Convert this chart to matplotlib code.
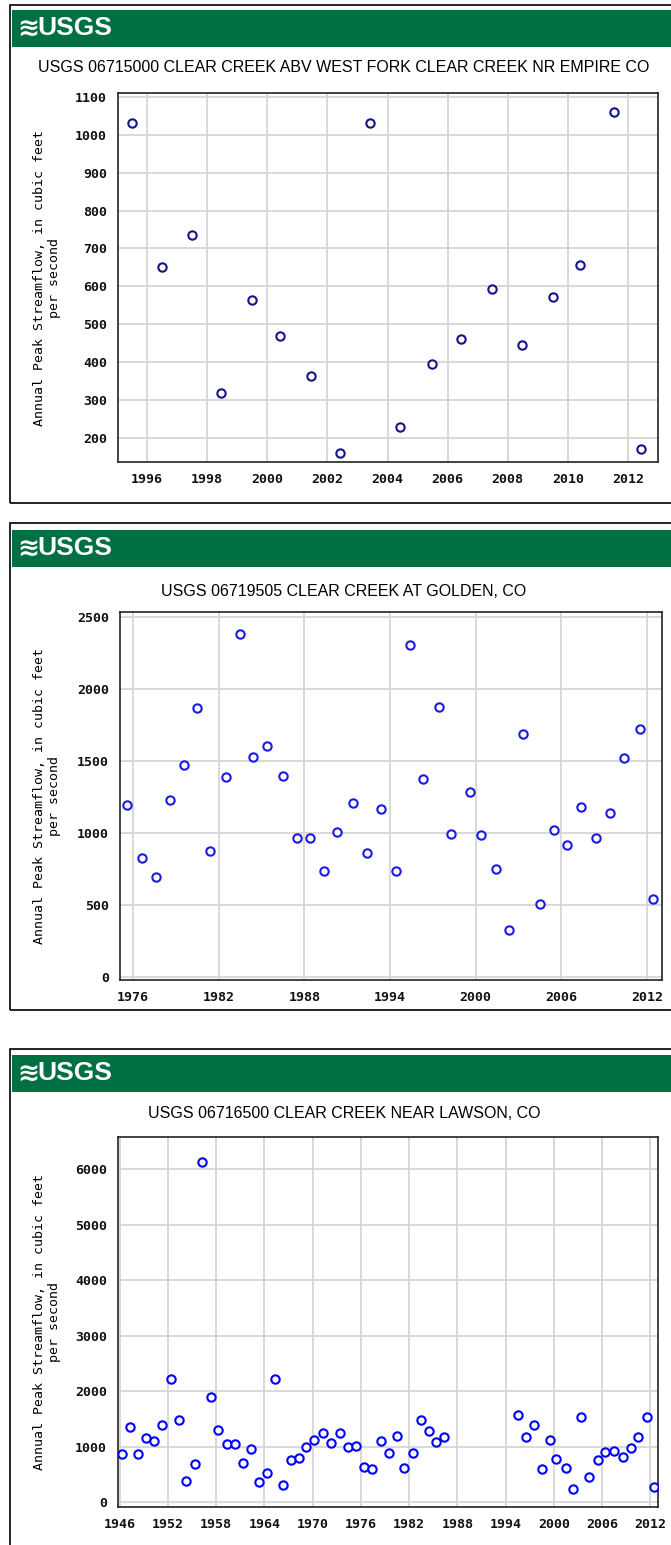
import matplotlib
matplotlib.use('Agg')
import matplotlib.pyplot as plt
from matplotlib import font_manager
from matplotlib.patches import Rectangle

# ---- data ----
# 06715000 CLEAR CREEK ABV WEST FORK CLEAR CREEK NR EMPIRE CO
empire_year = [1995.5, 1996.5, 1997.5, 1998.45, 1999.5, 2000.42, 2001.46, 2002.42, 2003.42,
               2004.43, 2005.48, 2006.44, 2007.48, 2008.49, 2009.5, 2010.42, 2011.53, 2012.42]
empire_peak = [1030, 650, 735, 320, 564, 469, 365, 160, 1030,
               230, 396, 461, 594, 445, 573, 657, 1060, 170]
empire_ticks = [1996, 1998, 2000, 2002, 2004, 2006, 2008, 2010, 2012]
empire_yticks = [200, 300, 400, 500, 600, 700, 800, 900, 1000, 1100]

# 06719505 CLEAR CREEK AT GOLDEN, CO
golden_year = [1975.6, 1976.6, 1977.6, 1978.6, 1979.6, 1980.5, 1981.4, 1982.5, 1983.5, 1984.4,
               1985.4, 1986.5, 1987.5, 1988.4, 1989.4, 1990.3, 1991.4, 1992.4, 1993.4, 1994.4,
               1995.4, 1996.3, 1997.4, 1998.3, 1999.6, 2000.4, 2001.4, 2002.3, 2003.3, 2004.5,
               2005.5, 2006.4, 2007.4, 2008.4, 2009.4, 2010.4, 2011.5, 2012.4]
golden_peak = [1196, 826, 692, 1229, 1472, 1870, 875, 1391, 2380, 1528,
               1606, 1398, 963, 963, 738, 1005, 1206, 859, 1167, 738,
               2308, 1373, 1873, 995, 1285, 986, 748, 326, 1688, 505,
               1021, 914, 1181, 963, 1141, 1519, 1720, 544]
golden_ticks = [1976, 1982, 1988, 1994, 2000, 2006, 2012]
golden_yticks = [0, 500, 1000, 1500, 2000, 2500]

# 06716500 CLEAR CREEK NEAR LAWSON, CO
lawson_year = [1946.3, 1947.3, 1948.3, 1949.3, 1950.3, 1951.3, 1952.4, 1953.4, 1954.3, 1955.4,
               1956.3, 1957.4, 1958.2, 1959.4, 1960.4, 1961.4, 1962.4, 1963.3, 1964.3, 1965.3,
               1966.3, 1967.3, 1968.3, 1969.2, 1970.2, 1971.3, 1972.3, 1973.4, 1974.4, 1975.4,
               1976.4, 1977.4, 1978.5, 1979.5, 1980.5, 1981.4, 1982.5, 1983.5, 1984.5, 1985.4,
               1986.4, 1995.5, 1996.5, 1997.5, 1998.5, 1999.5, 2000.3, 2001.5, 2002.4, 2003.4,
               2004.4, 2005.5, 2006.4, 2007.5, 2008.6, 2009.6, 2010.5, 2011.6, 2012.4]
lawson_peak = [870, 1351, 870, 1164, 1099, 1393, 2227, 1477, 390, 690,
               6126, 1897, 1309, 1057, 1057, 702, 955, 372, 534, 2227,
               306, 768, 804, 1002, 1123, 1243, 1063, 1243, 1002, 1020,
               642, 594, 1099, 894, 1189, 618, 894, 1477, 1290, 1081,
               1171, 1578, 1171, 1393, 600, 1123, 786, 618, 240, 1543,
               450, 762, 912, 930, 810, 973, 1171, 1543, 281]
lawson_ticks = [1946, 1952, 1958, 1964, 1970, 1976, 1982, 1988, 1994, 2000, 2006, 2012]
lawson_yticks = [0, 1000, 2000, 3000, 4000, 5000, 6000]

YLABEL = 'Annual Peak Streamflow, in cubic feet\nper second'

W, H = 671, 1545
GREEN = '#006f41'

names = {f.name for f in font_manager.fontManager.ttflist}
if 'Liberation Sans Narrow' in names:
    TITLE_FONT, TITLE_SIZE = 'Liberation Sans Narrow', 13
else:
    TITLE_FONT, TITLE_SIZE = 'Liberation Sans', 11.5


def fx(x):
    return x / W


def fy(y):
    return 1 - y / H


def draw_panel(fig, top, bottom, banner_top, title, title_y, box,
               years, peaks, xticks, yticks, xlim, ylim, color):
    # 枠
    fig.patches.append(Rectangle((fx(10), fy(bottom)), fx(700), (bottom - top) / H,
                                 transform=fig.transFigure, fill=False,
                                 edgecolor='black', linewidth=1.2))
    # バナー
    fig.patches.append(Rectangle((fx(12), fy(banner_top + 37)), fx(680), 37 / H,
                                 transform=fig.transFigure, facecolor=GREEN,
                                 edgecolor='none'))
    fig.text(fx(17), fy(banner_top + 19), '\u224b', color='white', fontsize=19,
             fontweight='bold', family='DejaVu Sans', ha='left', va='center')
    fig.text(fx(37), fy(banner_top + 18), 'USGS', color='white', fontsize=19,
             fontweight='bold', family='Liberation Sans', ha='left', va='center')
    fig.text(fx(344), fy(title_y), title, family=TITLE_FONT, fontsize=TITLE_SIZE,
             ha='center', va='center', color='black')

    left, atop, right, abot = box
    ax = fig.add_axes([fx(left), fy(abot), (right - left) / W, (abot - atop) / H])
    ax.plot(years, peaks, linestyle='none', marker='o', markersize=6,
            markerfacecolor='white', markeredgecolor=color, markeredgewidth=1.5,
            zorder=3)
    ax.set_xlim(*xlim)
    ax.set_ylim(*ylim)
    ax.set_xticks(xticks)
    ax.set_yticks(yticks)
    ax.grid(True, color='#d6d6d6', linewidth=1.3)
    ax.set_axisbelow(True)
    ax.tick_params(length=0, pad=8)
    for lab in ax.get_xticklabels() + ax.get_yticklabels():
        lab.set_family('DejaVu Sans Mono')
        lab.set_fontweight('bold')
        lab.set_fontsize(9.5)
        lab.set_color('#111111')
    for sp in ax.spines.values():
        sp.set_linewidth(1.2)
        sp.set_color('#222222')

    # 軸ラベル
    fig.text(fx(47), fy((atop + abot) / 2), YLABEL, rotation=90,
             family='DejaVu Sans Mono', fontsize=9.5, ha='center', va='center',
             multialignment='center', linespacing=1.15, color='black')
    return ax


def main():
    fig = plt.figure(figsize=(W / 100, H / 100), dpi=100)
    fig.patch.set_facecolor('white')

    draw_panel(fig, 5, 503, 10,
               'USGS 06715000 CLEAR CREEK ABV WEST FORK CLEAR CREEK NR EMPIRE CO', 68,
               (118, 93, 658, 462), empire_year, empire_peak,
               empire_ticks, empire_yticks, (1995.03, 2013.0), (137, 1110), '#14148a')

    draw_panel(fig, 523, 1010, 530,
               'USGS 06719505 CLEAR CREEK AT GOLDEN, CO', 592,
               (120, 612, 662, 980), golden_year, golden_peak,
               golden_ticks, golden_yticks, (1975.09, 2013.05), (-21, 2535), '#1a1ae0')

    draw_panel(fig, 1049, 1560, 1055,
               'USGS 06716500 CLEAR CREEK NEAR LAWSON, CO', 1113,
               (118, 1137, 658, 1507), lawson_year, lawson_peak,
               lawson_ticks, lawson_yticks, (1945.8, 2012.95), (-85, 6580), 'blue')

    fig.savefig('out.png', dpi=100)


if __name__ == '__main__':
    main()
